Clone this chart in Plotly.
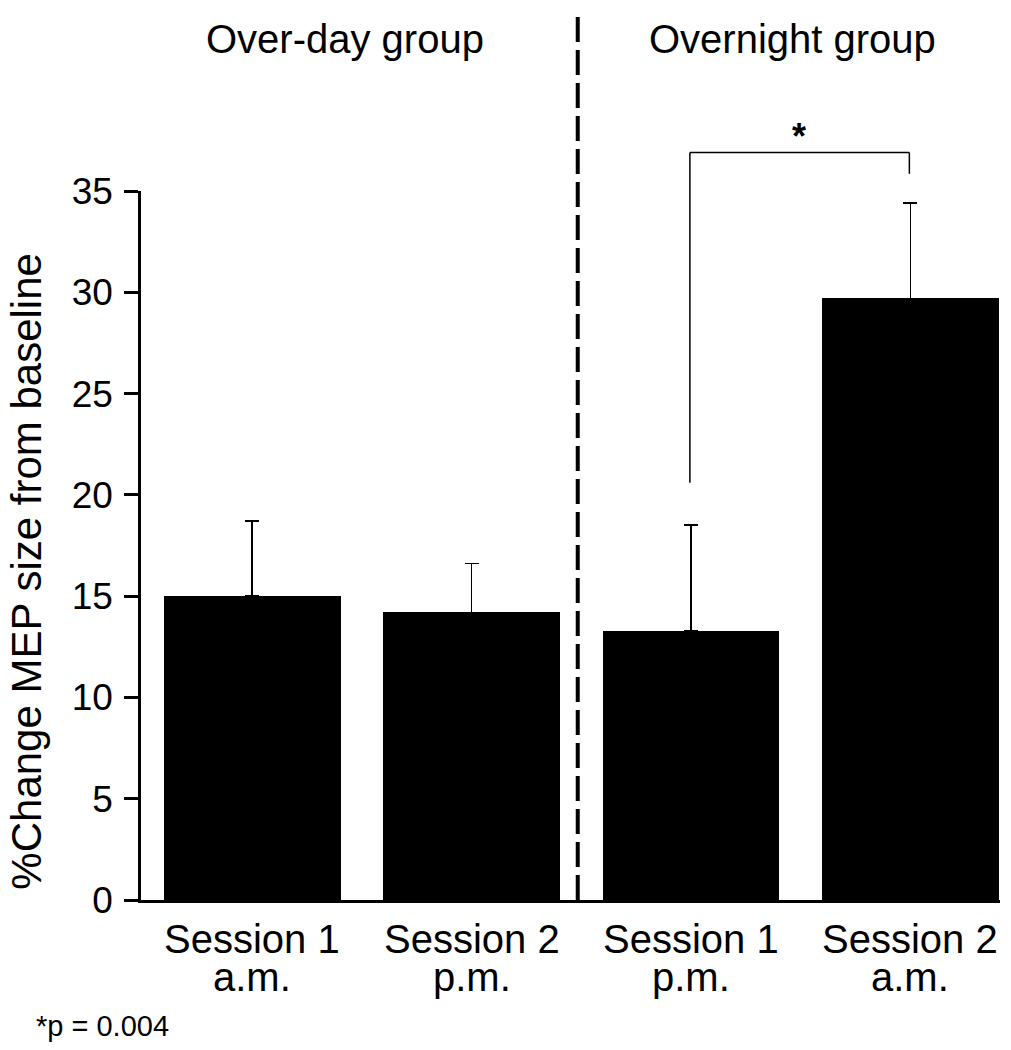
import plotly.graph_objects as go

# ---- data ----
categories = ["Session 1<br>a.m.", "Session 2<br>p.m.", "Session 1<br>p.m.", "Session 2<br>a.m."]
values = [15.0, 14.2, 13.3, 29.7]
errors = [3.7, 2.4, 5.2, 4.7]
group_titles = ["Over-day group", "Overnight group"]
y_ticks = [0, 5, 10, 15, 20, 25, 30, 35]
footnote = "*p = 0.004"

FONT = "Liberation Sans, Arial, Helvetica, sans-serif"
YMAX = 35
xpos = list(range(len(categories)))


def to_paper(v):
    return v / YMAX


fig = go.Figure()
fig.add_trace(go.Bar(
    x=xpos, y=values, width=0.806,
    marker=dict(color="black", line=dict(width=0)),
    error_y=dict(type="data", array=errors, symmetric=False, arrayminus=[0] * 4,
                 color="black", thickness=1.5, width=7),
    showlegend=False,
))

# dashed separator between the groups
fig.add_shape(type="line", xref="x", yref="paper", x0=1.484, x1=1.484, y0=0, y1=1.2495,
              line=dict(color="black", width=4, dash="25px,8px"))

# significance bracket between the two overnight sessions
top3 = values[2] + errors[2]
top4 = values[3] + errors[3]
bracket_y = 36.9
bx0, bx1 = xpos[2] - 0.005, xpos[3] - 0.005
for (xa, ya, xb, yb) in [(bx0, top3 + 2.1, bx0, bracket_y),
                         (bx0, bracket_y, bx1, bracket_y),
                         (bx1, bracket_y, bx1, top4 + 1.45)]:
    fig.add_shape(type="line", xref="x", yref="paper",
                  x0=xa, x1=xb, y0=to_paper(ya), y1=to_paper(yb),
                  line=dict(color="black", width=1.5))
fig.add_annotation(x=(xpos[2] + xpos[3]) / 2 - 0.01, y=1.077, xref="x", yref="paper",
                   text="<b>*</b>", showarrow=False,
                   font=dict(size=36, family=FONT, color="black"), yanchor="middle")

# group titles
for gx, gt in zip([0.424, 2.462], group_titles):
    fig.add_annotation(x=gx, y=1.214, xref="x", yref="paper", text=gt, showarrow=False,
                       font=dict(size=40, family=FONT, color="black"), yanchor="middle")

# category labels (two lines, tight spacing as in the original)
for xp, cat in zip(xpos, categories):
    line1, line2 = cat.split("<br>")
    fig.add_annotation(x=xp, y=-0.0546, xref="x", yref="paper", text=line1, showarrow=False,
                       font=dict(size=40, family=FONT, color="black"), yanchor="middle")
    fig.add_annotation(x=xp, y=-0.109, xref="x", yref="paper", text=line2, showarrow=False,
                       font=dict(size=40, family=FONT, color="black"), yanchor="middle")

# y-axis title
fig.add_annotation(x=-0.1335, y=0.4636, xref="paper", yref="paper",
                   text="%Change MEP size from baseline", textangle=-90, showarrow=False,
                   font=dict(size=42, family=FONT, color="black"),
                   xanchor="center", yanchor="middle")

# footnote
fig.add_annotation(x=-0.1245, y=-0.1772, xref="paper", yref="paper", text=footnote,
                   showarrow=False, xanchor="left", yanchor="middle",
                   font=dict(size=29, family=FONT, color="black"))

fig.update_layout(
    width=995, height=1034,
    margin=dict(l=133, r=3, t=183, b=141.7),
    plot_bgcolor="white", paper_bgcolor="white",
    font=dict(family=FONT, color="black"),
    bargap=0,
)
fig.update_xaxes(
    range=[-0.506, 3.408], tickvals=xpos, showticklabels=False,
    showline=True, linecolor="black", linewidth=2.5,
    ticks="", showgrid=False, zeroline=False,
)
fig.update_yaxes(
    range=[0, YMAX], tickvals=y_ticks,
    showline=True, linecolor="black", linewidth=2.5,
    ticks="outside", ticklen=14, tickwidth=2.5, tickcolor="black",
    ticklabelstandoff=4,
    showgrid=False, zeroline=False,
    tickfont=dict(size=37, family=FONT, color="black"),
)

fig.write_html("out.html")
